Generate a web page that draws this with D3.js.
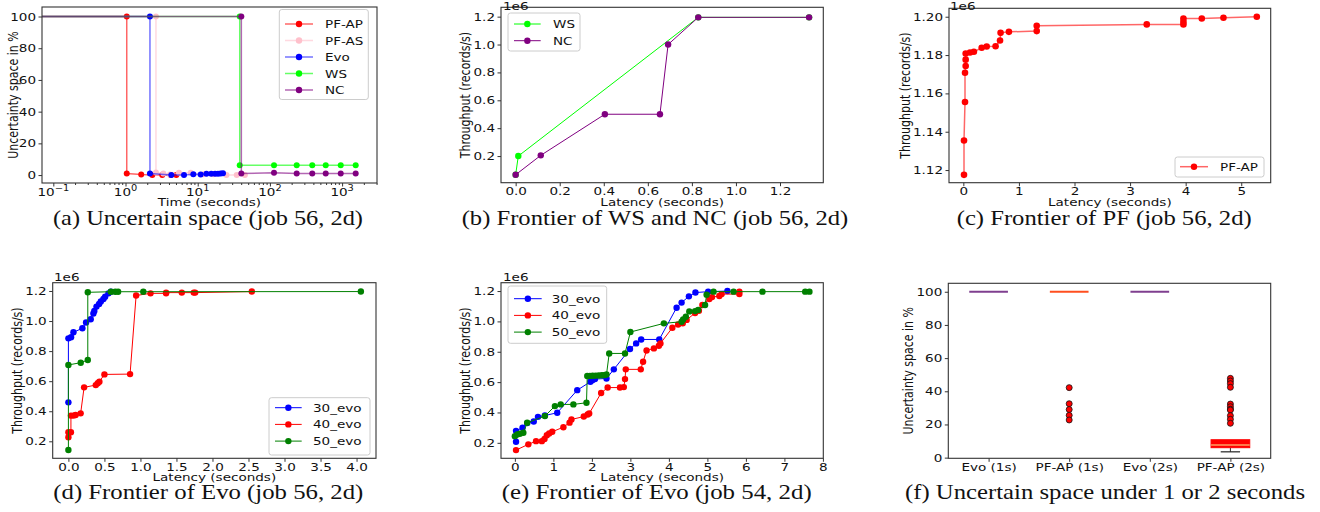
<!DOCTYPE html>
<html>
<head>
<meta charset="utf-8">
<script src="https://cdn.jsdelivr.net/npm/d3@7"></script>
<style>
body { margin: 0; background: #fff; }
svg text { font-family: "DejaVu Sans", sans-serif; fill: #111; }
</style>
</head>
<body>
<svg id="fig" width="1320" height="512"></svg>
<script>
// (a) uncertainty space vs time, job 56 (time 0 = start, drawn at the left edge)
var aPfApTime = [0, 1.04, 1.04, 1.65, 2.35, 3.23, 4.23, 5.05];
var aPfApSpace = [100, 100, 1.0, 0.3, 0, 0, 0, 0];
var aPfAsTime = [0, 2.64, 2.64, 3.34, 4.13, 5.5, 8.0, 12, 16.5, 25, 34.7, 45];
var aPfAsSpace = [100, 100, 1.6, 1.0, 0.3, 1.5, 1.5, 0.5, 0.5, 0, 0, 0];
var aEvoTime = [0, 2.18, 2.18, 4.31, 6.46, 8.69, 11.0, 13.2, 15.4, 17.4, 19.1, 20.8, 22.4];
var aEvoSpace = [100, 100, 1.0, 0, 0, 0.5, 0.3, 0.8, 0.8, 0.8, 0.9, 1.0, 1.1];
var aWsTime = [0, 38.2, 38.2, 114, 235, 386, 593, 957, 1543];
var aWsSpace = [100, 100, 6.2, 6.2, 6.2, 6.2, 6.2, 6.2, 6.2];
var aNcTime = [0, 40.2, 40.2, 114, 235, 386, 593, 957, 1543];
var aNcSpace = [100, 100, 1.0, 1.5, 1.0, 1.0, 1.0, 1.0, 1.0];
var aTicks = [0.1, 1, 10, 100, 1000];
var aTickExp = ["\u22121", "0", "1", "2", "3"];

// (b) frontier of WS and NC (throughput in 1e6 records/s)
var bWsLatency = [0, 0.012, 0.829, 1.332];
var bWsThroughput = [0.066, 0.2, 1.195, 1.195];
var bNcLatency = [0, 0.114, 0.405, 0.655, 0.692, 0.829, 1.332];
var bNcThroughput = [0.066, 0.205, 0.5, 0.5, 1.0, 1.195, 1.195];

// (c) frontier of PF
var cLatency = [0.012, 0.012, 0.03, 0.03, 0.042, 0.042, 0.042, 0.12, 0.19, 0.33, 0.42, 0.58, 0.66, 0.67, 0.82, 1.32, 1.32, 3.30, 3.96, 3.96, 3.96, 4.29, 4.68, 5.28];
var cThroughput = [1.1175, 1.1354, 1.1555, 1.1708, 1.1743, 1.1776, 1.1808, 1.1813, 1.1817, 1.1838, 1.1845, 1.1846, 1.1876, 1.1916, 1.1921, 1.1925, 1.1953, 1.1960, 1.1960, 1.1974, 1.1991, 1.1991, 1.1995, 1.2000];

// (d) frontier of Evo, job 56
var d30Latency = [0, 0, 0.037, 0.07, 0.194, 0.245, 0.31, 0.347, 0.36, 0.39, 0.426, 0.45, 0.486, 0.51, 0.556, 0.59];
var d30Throughput = [0.459, 0.885, 0.892, 0.925, 0.952, 0.99, 1.012, 1.05, 1.067, 1.096, 1.114, 1.13, 1.147, 1.162, 1.184, 1.195];
var d40Latency = [0, 0, 0.035, 0.035, 0.07, 0.1, 0.17, 0.218, 0.38, 0.407, 0.43, 0.5, 0.856, 0.94, 1.14, 1.356, 1.356, 1.574, 1.74, 1.76, 2.546];
var d40Throughput = [0.227, 0.26, 0.26, 0.371, 0.371, 0.375, 0.386, 0.559, 0.574, 0.586, 0.597, 0.645, 0.647, 1.17, 1.184, 1.184, 1.189, 1.189, 1.189, 1.189, 1.196];
var d50Latency = [0, 0, 0.171, 0.269, 0.269, 0.59, 0.65, 0.69, 1.04, 4.06];
var d50Throughput = [0.142, 0.708, 0.723, 0.741, 1.191, 1.195, 1.195, 1.195, 1.195, 1.196];

// (e) frontier of Evo, job 54
var e30Latency = [0.03, 0.03, 0.2, 0.32, 0.49, 0.6, 0.78, 1.1, 1.62, 1.96, 2.01, 2.08, 2.38, 2.57, 2.99, 3.15, 3.28, 3.75, 4.2, 4.33, 4.52, 4.69, 5.02, 5.52];
var e30Throughput = [0.207, 0.279, 0.30, 0.33, 0.34, 0.371, 0.38, 0.398, 0.547, 0.602, 0.613, 0.62, 0.624, 0.684, 0.818, 0.855, 0.881, 0.881, 1.09, 1.124, 1.165, 1.19, 1.196, 1.2];
var e40Latency = [0.03, 0.35, 0.55, 0.7, 0.77, 0.83, 0.89, 0.97, 1.26, 1.42, 1.47, 1.79, 1.89, 1.93, 2.24, 2.41, 2.73, 2.83, 2.86, 2.88, 3.27, 3.33, 3.42, 3.61, 3.74, 3.78, 4.09, 4.24, 4.36, 4.46, 4.68, 4.78, 4.87, 5.05, 5.12, 5.31, 5.37, 5.83, 5.83];
var e40Throughput = [0.152, 0.19, 0.211, 0.211, 0.225, 0.25, 0.262, 0.273, 0.303, 0.333, 0.354, 0.373, 0.387, 0.393, 0.528, 0.564, 0.564, 0.567, 0.62, 0.684, 0.684, 0.734, 0.808, 0.822, 0.84, 0.855, 0.958, 0.98, 0.987, 1.01, 1.055, 1.07, 1.108, 1.148, 1.16, 1.167, 1.18, 1.18, 1.196];
var e50Latency = [0, 0.06, 0.13, 0.22, 0.32, 0.78, 1.04, 1.19, 1.52, 1.86, 1.88, 1.95, 2.02, 2.1, 2.18, 2.26, 2.32, 2.38, 2.45, 2.86, 3.0, 3.87, 4.33, 4.37, 4.44, 4.53, 4.68, 4.76, 4.94, 4.98, 5.16, 5.68, 6.43, 7.54, 7.65];
var e50Throughput = [0.244, 0.255, 0.26, 0.266, 0.332, 0.376, 0.442, 0.453, 0.453, 0.464, 0.64, 0.641, 0.642, 0.643, 0.644, 0.645, 0.646, 0.65, 0.789, 0.789, 0.93, 0.987, 0.998, 1.013, 1.031, 1.066, 1.068, 1.075, 1.108, 1.176, 1.196, 1.196, 1.196, 1.196, 1.196];

// (f) box stats of uncertainty space under 1 or 2 seconds
var fLabels = ["Evo (1s)", "PF-AP (1s)", "Evo (2s)", "PF-AP (2s)"];
var fWhiskerLow = [100, 100, 100, 3.5];
var fQ1 = [100, 100, 100, 6.0];
var fMedian = [100, 100, 100, 7.6];
var fQ3 = [100, 100, 100, 10.8];
var fWhiskerHigh = [100, 100, 100, 10.8];
var fOutliers = [[], [42.2, 32.5, 29.0, 25.5, 22.7], [], [47.8, 46.2, 44.6, 42.4, 32.3, 30.7, 29.2, 28.7, 25.3, 23.1, 20.7]];

var captionTexts = [
	"(a) Uncertain space (job 56, 2d)",
	"(b) Frontier of WS and NC (job 56, 2d)",
	"(c) Frontier of PF (job 56, 2d)",
	"(d) Frontier of Evo (job 56, 2d)",
	"(e) Frontier of Evo (job 54, 2d)",
	"(f) Uncertain space under 1 or 2 seconds"
];

var SX = 1.23; // the figure text is a bit stretched horizontally
var svg = d3.select("#fig");

function panel(box) {
	return svg.append("g").attr("transform", "translate(" + box.x + "," + box.y + ")");
}

function frame(g, box) {
	g.append("rect")
	.attr("width", box.w)
	.attr("height", box.h)
	.attr("fill", "none")
	.attr("stroke", "#333")
	.attr("stroke-width", 1.1);
}

function styleAxis(ag, side) {
	ag.select(".domain").remove();
	ag.selectAll("line").attr("stroke", "#333");
	ag.selectAll("text")
	.attr("font-size", 11)
	.attr("font-family", "DejaVu Sans, sans-serif")
	.attr("fill", "#111")
	.attr("transform", "scale(" + SX + ",1)");
	if (side === "left") {
		ag.selectAll("text").attr("x", -6 / SX);
	}
}

function addText(x, y, str, size, anchor) {
	return svg.append("text")
	.attr("transform", "translate(" + x + "," + y + ") scale(" + SX + ",1)")
	.attr("text-anchor", anchor || "start")
	.attr("font-size", size)
	.text(str);
}

function xLabel(g, box, str, dy) {
	g.append("text")
	.attr("transform", "translate(" + (box.w / 2) + "," + (box.h + dy) + ") scale(" + SX + ",1)")
	.attr("text-anchor", "middle")
	.attr("font-size", 11)
	.text(str);
}

function yLabel(g, box, str, dx) {
	g.append("text")
	.attr("transform", "translate(" + dx + "," + (box.h / 2) + ") rotate(-90) scale(1," + SX + ")")
	.attr("text-anchor", "middle")
	.attr("font-size", 11)
	.text(str);
}

function drawSeries(g, xf, yf, xs, ys, color, width, opacity, r) {
	var pts = xs.map(function(v, i) { return [v, ys[i]]; });
	var line = d3.line()
		.x(function(d) { return xf(d[0]); })
		.y(function(d) { return yf(d[1]); });
	g.append("path")
	.datum(pts)
	.attr("d", line)
	.attr("fill", "none")
	.attr("stroke", color)
	.attr("stroke-width", width)
	.attr("stroke-opacity", opacity);
	g.selectAll(null)
	.data(pts.filter(function(d) { return d[0] > 0 || !g.node().__log; }))
	.enter()
	.append("circle")
	.attr("cx", function(d) { return xf(d[0]); })
	.attr("cy", function(d) { return yf(d[1]); })
	.attr("r", r || 3.2)
	.attr("fill", color);
}

function legend(lg, items) {
	svg.append("rect")
	.attr("x", lg.x).attr("y", lg.y)
	.attr("width", lg.w).attr("height", lg.h)
	.attr("rx", 2.5)
	.attr("fill", "#fff")
	.attr("fill-opacity", 0.85)
	.attr("stroke", "#ccc");
	items.forEach(function(item, i) {
		var cy = lg.row0 + i * lg.step;
		svg.append("line")
		.attr("x1", lg.l0).attr("x2", lg.l1)
		.attr("y1", cy).attr("y2", cy)
		.attr("stroke", item.color)
		.attr("stroke-width", item.width)
		.attr("stroke-opacity", item.opacity);
		svg.append("circle")
		.attr("cx", (lg.l0 + lg.l1) / 2).attr("cy", cy)
		.attr("r", 3.2)
		.attr("fill", item.color);
		addText(lg.tx, cy + 4, item.name, 11, "start");
	});
}

// ---------- (a) ----------
var boxA = {x: 42, y: 7, w: 335, h: 176};
var gA = panel(boxA);
gA.node().__log = true;
var xA = d3.scaleLog().domain([0.0697, 3043]).range([0, boxA.w]);
var yA = d3.scaleLinear().domain([-5, 106]).range([boxA.h, 0]);
var xAf = function(t) { return t > 0 ? xA(t) : 0; };

var axA = gA.append("g").attr("transform", "translate(0," + boxA.h + ")")
	.call(d3.axisBottom(xA).tickValues(aTicks).tickSize(3.5).tickFormat(function() { return ""; }));
styleAxis(axA, "bottom");
var minors = [];
aTicks.forEach(function(t) {
	for (var k = 2; k < 10; k++) {
		if (t * k < xA.domain()[1]) minors.push(t * k);
	}
});
gA.append("g").attr("transform", "translate(0," + boxA.h + ")")
	.call(d3.axisBottom(xA).tickValues(minors).tickSize(2).tickFormat(function() { return ""; }))
	.call(function(s) { s.select(".domain").remove(); s.selectAll("line").attr("stroke", "#333"); });
aTicks.forEach(function(t, i) {
	var tx = gA.append("text")
		.attr("transform", "translate(" + xA(t) + "," + (boxA.h + 13) + ") scale(" + SX + ",1)")
		.attr("text-anchor", "middle")
		.attr("font-size", 11);
	tx.append("tspan").text("10");
	tx.append("tspan").attr("dy", -5).attr("font-size", 8).text(aTickExp[i]);
});
var ayA = gA.append("g").call(d3.axisLeft(yA).tickValues([0, 20, 40, 60, 80, 100]).tickSize(3.5).tickPadding(2.5));
styleAxis(ayA, "left");

drawSeries(gA, xAf, yA, aPfApTime, aPfApSpace, "red", 1.5, 0.6, 3);
drawSeries(gA, xAf, yA, aPfAsTime, aPfAsSpace, "pink", 1.5, 0.6, 3);
drawSeries(gA, xAf, yA, aEvoTime, aEvoSpace, "blue", 1.5, 0.55, 3);
drawSeries(gA, xAf, yA, aWsTime, aWsSpace, "lime", 1.5, 0.6, 3);
drawSeries(gA, xAf, yA, aNcTime, aNcSpace, "purple", 1.5, 0.6, 3);
frame(gA, boxA);
xLabel(gA, boxA, "Time (seconds)", 23);
yLabel(gA, boxA, "Uncertainty space in %", -24);
legend({x: 279.3, y: 9.5, w: 89, h: 90, row0: 24, step: 16.5, l0: 285, l1: 313, tx: 325}, [
	{name: "PF-AP", color: "red", width: 1.5, opacity: 0.6},
	{name: "PF-AS", color: "pink", width: 1.5, opacity: 0.6},
	{name: "Evo", color: "blue", width: 1.5, opacity: 0.55},
	{name: "WS", color: "lime", width: 1.5, opacity: 0.6},
	{name: "NC", color: "purple", width: 1.5, opacity: 0.6}
]);

// ---------- (b) ----------
var boxB = {x: 501, y: 7.3, w: 322.3, h: 175.4};
var gB = panel(boxB);
var xB = d3.scaleLinear().domain([-0.0665, 1.3965]).range([0, boxB.w]);
var yB = d3.scaleLinear().domain([0.009, 1.267]).range([boxB.h, 0]);
styleAxis(gB.append("g").attr("transform", "translate(0," + boxB.h + ")")
	.call(d3.axisBottom(xB).tickValues([0, 0.2, 0.4, 0.6, 0.8, 1.0, 1.2]).tickFormat(d3.format(".1f")).tickSize(3.5).tickPadding(1.5)), "bottom");
styleAxis(gB.append("g")
	.call(d3.axisLeft(yB).tickValues([0.2, 0.4, 0.6, 0.8, 1.0, 1.2]).tickFormat(d3.format(".1f")).tickSize(3.5).tickPadding(2.5)), "left");
drawSeries(gB, xB, yB, bWsLatency, bWsThroughput, "lime", 1, 1);
drawSeries(gB, xB, yB, bNcLatency, bNcThroughput, "purple", 1, 1);
frame(gB, boxB);
xLabel(gB, boxB, "Latency (seconds)", 23);
yLabel(gB, boxB, "Throughput (records/s)", -31);
addText(503, 9.5, "1e6", 11);
legend({x: 508, y: 13, w: 72, h: 38, row0: 24, step: 16.7, l0: 514, l1: 540.7, tx: 553}, [
	{name: "WS", color: "lime", width: 1, opacity: 1},
	{name: "NC", color: "purple", width: 1, opacity: 1}
]);

// ---------- (c) ----------
var boxC = {x: 949, y: 8.3, w: 321.7, h: 174.4};
var gC = panel(boxC);
var xC = d3.scaleLinear().domain([-0.258, 5.53]).range([0, boxC.w]);
var yC = d3.scaleLinear().domain([1.1134, 1.2044]).range([boxC.h, 0]);
styleAxis(gC.append("g").attr("transform", "translate(0," + boxC.h + ")")
	.call(d3.axisBottom(xC).tickValues([0, 1, 2, 3, 4, 5]).tickFormat(d3.format("d")).tickSize(3.5).tickPadding(1.5)), "bottom");
styleAxis(gC.append("g")
	.call(d3.axisLeft(yC).tickValues([1.12, 1.14, 1.16, 1.18, 1.20]).tickFormat(d3.format(".2f")).tickSize(3.5).tickPadding(2.5)), "left");
drawSeries(gC, xC, yC, cLatency, cThroughput, "red", 1.5, 0.6, 3.3);
frame(gC, boxC);
xLabel(gC, boxC, "Latency (seconds)", 23);
yLabel(gC, boxC, "Throughput (records/s)", -39.5);
addText(950, 9.5, "1e6", 11);
legend({x: 1175, y: 157, w: 89, h: 20, row0: 166.7, step: 0, l0: 1180, l1: 1208, tx: 1220}, [
	{name: "PF-AP", color: "red", width: 1.5, opacity: 0.6}
]);

// ---------- (d) ----------
var boxD = {x: 52.7, y: 282.7, w: 323.3, h: 175.6};
var gD = panel(boxD);
var xD = d3.scaleLinear().domain([-0.218, 4.27]).range([0, boxD.w]);
var yD = d3.scaleLinear().domain([0.087, 1.255]).range([boxD.h, 0]);
styleAxis(gD.append("g").attr("transform", "translate(0," + boxD.h + ")")
	.call(d3.axisBottom(xD).tickValues([0, 0.5, 1, 1.5, 2, 2.5, 3, 3.5, 4]).tickFormat(d3.format(".1f")).tickSize(3.5).tickPadding(1.5)), "bottom");
styleAxis(gD.append("g")
	.call(d3.axisLeft(yD).tickValues([0.2, 0.4, 0.6, 0.8, 1.0, 1.2]).tickFormat(d3.format(".1f")).tickSize(3.5).tickPadding(2.5)), "left");
drawSeries(gD, xD, yD, d30Latency, d30Throughput, "blue", 1, 1);
drawSeries(gD, xD, yD, d40Latency, d40Throughput, "red", 1, 1);
drawSeries(gD, xD, yD, d50Latency, d50Throughput, "green", 1, 1);
frame(gD, boxD);
xLabel(gD, boxD, "Latency (seconds)", 23);
yLabel(gD, boxD, "Throughput (records/s)", -31);
addText(54, 281, "1e6", 11);
legend({x: 269, y: 397.7, w: 101, h: 57.3, row0: 407.7, step: 16.7, l0: 275, l1: 301.7, tx: 313}, [
	{name: "30_evo", color: "blue", width: 1, opacity: 1},
	{name: "40_evo", color: "red", width: 1, opacity: 1},
	{name: "50_evo", color: "green", width: 1, opacity: 1}
]);

// ---------- (e) ----------
var boxE = {x: 501, y: 282.7, w: 322.3, h: 175.6};
var gE = panel(boxE);
var xE = d3.scaleLinear().domain([-0.36, 8.01]).range([0, boxE.w]);
var yE = d3.scaleLinear().domain([0.098, 1.255]).range([boxE.h, 0]);
styleAxis(gE.append("g").attr("transform", "translate(0," + boxE.h + ")")
	.call(d3.axisBottom(xE).tickValues([0, 1, 2, 3, 4, 5, 6, 7, 8]).tickFormat(d3.format("d")).tickSize(3.5).tickPadding(1.5)), "bottom");
styleAxis(gE.append("g")
	.call(d3.axisLeft(yE).tickValues([0.2, 0.4, 0.6, 0.8, 1.0, 1.2]).tickFormat(d3.format(".1f")).tickSize(3.5).tickPadding(2.5)), "left");
drawSeries(gE, xE, yE, e30Latency, e30Throughput, "blue", 1, 1);
drawSeries(gE, xE, yE, e40Latency, e40Throughput, "red", 1, 1);
drawSeries(gE, xE, yE, e50Latency, e50Throughput, "green", 1, 1);
frame(gE, boxE);
xLabel(gE, boxE, "Latency (seconds)", 23);
yLabel(gE, boxE, "Throughput (records/s)", -31);
addText(503, 281, "1e6", 11);
legend({x: 508, y: 286, w: 98.7, h: 57.3, row0: 298.7, step: 16.7, l0: 514, l1: 541.7, tx: 551.7}, [
	{name: "30_evo", color: "blue", width: 1, opacity: 1},
	{name: "40_evo", color: "red", width: 1, opacity: 1},
	{name: "50_evo", color: "green", width: 1, opacity: 1}
]);

// ---------- (f) ----------
var boxF = {x: 948.3, y: 283.3, w: 322.4, h: 175};
var gF = panel(boxF);
var xF = d3.scaleLinear().domain([0.5, 4.5]).range([0, boxF.w]);
var yF = d3.scaleLinear().domain([-0.4, 105.1]).range([boxF.h, 0]);
var boxColors = ["#7f3f8f", "#ff4f1f", "#7f3f8f", "red"];
var halfW = 0.24;
styleAxis(gF.append("g").attr("transform", "translate(0," + boxF.h + ")")
	.call(d3.axisBottom(xF).tickValues([1, 2, 3, 4]).tickFormat(function(d) { return fLabels[d - 1]; }).tickSize(3.5).tickPadding(1.5)), "bottom");
styleAxis(gF.append("g")
	.call(d3.axisLeft(yF).tickValues([0, 20, 40, 60, 80, 100]).tickSize(3.5).tickPadding(2.5)), "left");

fLabels.forEach(function(name, i) {
	var pos = i + 1;
	var col = boxColors[i];
	// lower whisker and cap
	if (fWhiskerLow[i] < fQ1[i]) {
		gF.append("line")
		.attr("x1", xF(pos)).attr("x2", xF(pos))
		.attr("y1", yF(fQ1[i])).attr("y2", yF(fWhiskerLow[i]))
		.attr("stroke", "#333").attr("stroke-width", 1);
		gF.append("line")
		.attr("x1", xF(pos - halfW / 2)).attr("x2", xF(pos + halfW / 2))
		.attr("y1", yF(fWhiskerLow[i])).attr("y2", yF(fWhiskerLow[i]))
		.attr("stroke", "#222").attr("stroke-width", 1.2);
	}
	if (fQ3[i] > fQ1[i]) {
		gF.append("rect")
		.attr("x", xF(pos - halfW))
		.attr("y", yF(fQ3[i]))
		.attr("width", xF(pos + halfW) - xF(pos - halfW))
		.attr("height", yF(fQ1[i]) - yF(fQ3[i]))
		.attr("fill", col)
		.attr("stroke", col);
		gF.append("line")
		.attr("x1", xF(pos - halfW)).attr("x2", xF(pos + halfW))
		.attr("y1", yF(fMedian[i])).attr("y2", yF(fMedian[i]))
		.attr("stroke", "#ffa060").attr("stroke-width", 1.5);
	} else {
		gF.append("line")
		.attr("x1", xF(pos - halfW)).attr("x2", xF(pos + halfW))
		.attr("y1", yF(fMedian[i])).attr("y2", yF(fMedian[i]))
		.attr("stroke", col).attr("stroke-width", 2);
	}
	gF.selectAll(null)
	.data(fOutliers[i])
	.enter()
	.append("circle")
	.attr("cx", xF(pos))
	.attr("cy", function(d) { return yF(d); })
	.attr("r", 3)
	.attr("fill", "red")
	.attr("stroke", "#111")
	.attr("stroke-width", 0.8);
});
frame(gF, boxF);
yLabel(gF, boxF, "Uncertainty space in %", -35);

// ---------- captions ----------
var capPos = [[53, 363, 225], [461.7, 848.3, 225], [956.7, 1251.7, 225], [53.3, 363.3, 499], [501.7, 811.7, 499], [905, 1305, 499]];
captionTexts.forEach(function(txt, i) {
	svg.append("text")
	.attr("x", capPos[i][0])
	.attr("y", capPos[i][2])
	.attr("textLength", capPos[i][1] - capPos[i][0])
	.attr("lengthAdjust", "spacingAndGlyphs")
	.style("font-family", "'Liberation Serif', 'Times New Roman', serif")
	.attr("font-size", 22)
	.text(txt);
});
</script>
</body>
</html>
